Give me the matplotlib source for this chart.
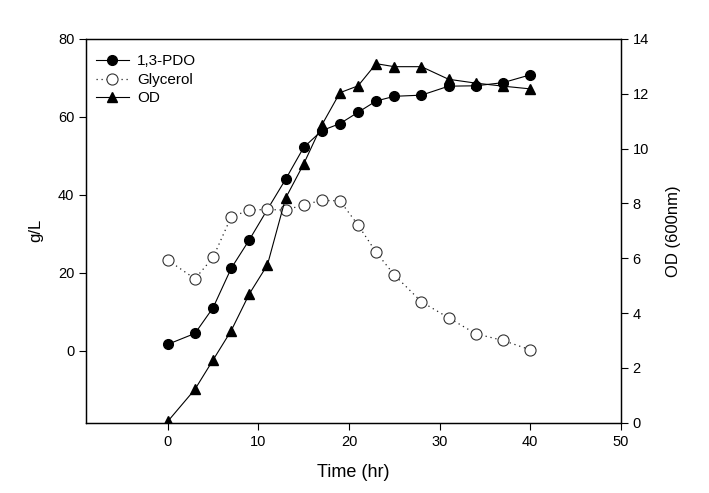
import matplotlib
matplotlib.use("Agg")
import matplotlib.pyplot as plt
import numpy as np

plt.rcParams['font.family'] = ['Liberation Sans', 'DejaVu Sans']

time_pdo = [0, 3, 5, 7, 9, 11, 13, 15, 17, 19, 21, 23, 25, 28, 31, 34, 37, 40]
pdo = [1.7, 4.5, 11.1, 21.2, 28.5, 36.3, 44.0, 52.2, 56.5, 58.3, 61.2, 64.1,
       65.3, 65.6, 67.9, 68.0, 68.8, 70.8]
glycerol = [23.3, 18.5, 24.0, 34.4, 36.1, 36.3, 36.1, 37.5, 38.6, 38.5, 32.3,
            25.3, 19.5, 12.6, 8.5, 4.4, 2.7, 0.3]
od = [0.05, 1.22, 2.29, 3.36, 4.70, 5.76, 8.19, 9.44, 10.86, 12.04, 12.29,
      13.10, 12.99, 12.99, 12.53, 12.39, 12.28, 12.18]

fig = plt.figure(figsize=(7.09, 4.93), dpi=100)
ax = fig.add_axes([0.1217, 0.1426, 0.8755 - 0.1217, 0.9209 - 0.1426])
ax2 = ax.twinx()

l1, = ax.plot(time_pdo, pdo, color='black', lw=0.8, marker='o', ms=7,
              mfc='black', mec='black', label='1,3-PDO')
l2, = ax.plot(time_pdo, glycerol, color='#222222', lw=0.9, ls=(0, (1, 3)),
              marker='o', ms=8, mfc='white', mec='#333333', mew=0.8,
              label='Glycerol')
l3, = ax2.plot(time_pdo, od, color='black', lw=0.8, marker='^', ms=7.5,
               mfc='black', mec='black', label='OD')

ax.set_xlim(-9, 50)
ax.set_ylim(-18.4, 80)
ax2.set_ylim(0, 14)
ax.set_xticks(np.arange(0, 51, 10))
ax.set_yticks(np.arange(0, 81, 20))
ax2.set_yticks(np.arange(0, 15, 2))

for a in (ax, ax2):
    a.tick_params(direction='out', length=5, width=0.8, labelsize=10.5)
    for s in a.spines.values():
        s.set_linewidth(0.9)

ax.set_xlabel('Time (hr)', fontsize=13, labelpad=11)
ax.set_ylabel('g/L', fontsize=12, labelpad=11)
ax2.set_ylabel('OD (600nm)', fontsize=12, labelpad=12)

ax2.legend(handles=[l1, l2, l3], loc='upper left', frameon=False,
           fontsize=11, handlelength=2.2, handletextpad=0.5,
           labelspacing=0.3, borderaxespad=0.35, bbox_to_anchor=(-0.004, 0.99))

fig.savefig('out.png', dpi=100)
